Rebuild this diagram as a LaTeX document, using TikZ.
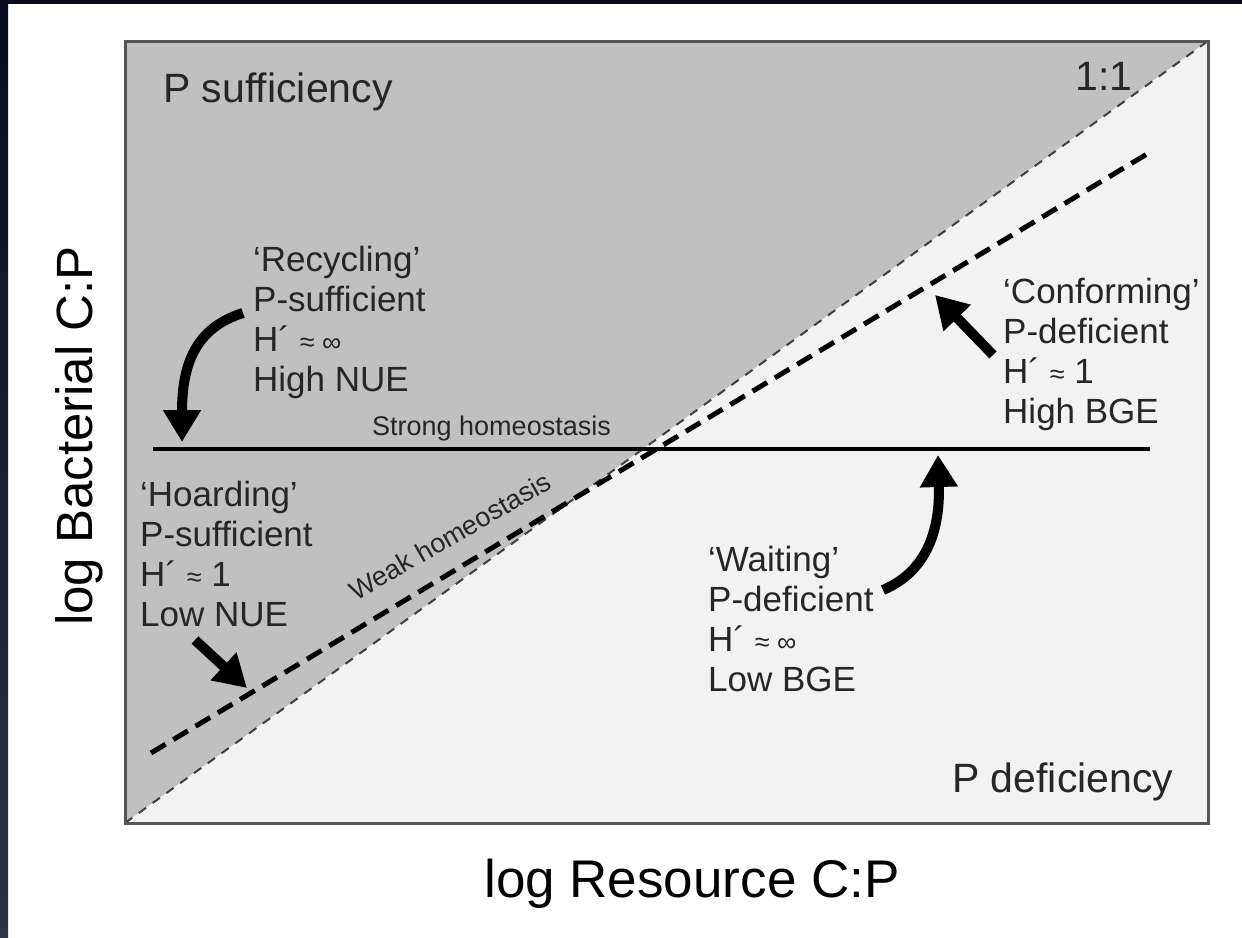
\documentclass[tikz,border=0pt]{standalone}
\usepackage{fontspec}
\setmainfont{Liberation Sans}
\usetikzlibrary{arrows.meta}
\definecolor{darkfill}{HTML}{C0C0C0}
\definecolor{lightfill}{HTML}{F2F2F2}
\definecolor{frameblue}{HTML}{0B0B1F}
\definecolor{frameblueb}{HTML}{30304A}
\definecolor{txt}{HTML}{262626}
\definecolor{framegray}{HTML}{555555}
\newcommand{\smallsym}[1]{{\fontsize{27}{27}\selectfont #1}}
\begin{document}
\begin{tikzpicture}[x=1pt,y=-1pt,
  lbl/.style={inner sep=0pt, text=txt, font=\fontsize{35}{40}\selectfont, align=left, anchor=north west},
  big/.style={inner sep=0pt, font=\fontsize{41}{46}\selectfont, text=txt, anchor=base west},
  axislbl/.style={inner sep=0pt, font=\fontsize{53}{60}\selectfont, text=black},
  thinlbl/.style={inner sep=0pt, font=\fontsize{27}{30}\selectfont, text=txt},
  bigarrow/.style={line width=10pt, -{Triangle[length=32pt,width=36pt]}},
  strongline/.style={line width=4.5pt},
  weakline/.style={line width=5pt, dash pattern=on 17pt off 9pt},
  oneline/.style={line width=2pt, draw=black!75, dash pattern=on 9pt off 8pt},
]
\useasboundingbox (0,0) rectangle (1242,937);
\fill[white] (0,0) rectangle (1242,937);
\shade[top color=frameblue, bottom color=frameblueb] (0,0) rectangle (8,937);
\fill[frameblue] (0,0) rectangle (1242,4);

% plot area
\coordinate (bl) at (125,823);
\coordinate (tr) at (1208,41);
\coordinate (tl) at (125,41);
\coordinate (br) at (1208,823);
\fill[darkfill] (bl) -- (tl) -- (tr) -- cycle;
\fill[lightfill] (bl) -- (br) -- (tr) -- cycle;
\draw[oneline] (bl) -- (tr);

% homeostasis lines
\coordinate (sl) at (153,449);
\coordinate (sr) at (1150,449);
\draw[strongline] (sl) -- (sr);
\coordinate (wl) at (151,753);
\coordinate (wr) at (1147,154);
\draw[weakline] (wl) -- (wr);

\draw[line width=3pt, draw=framegray] (tl) rectangle (br);

% labels
\node[big] (psuf) at (163,102) {P sufficiency};
\node[big] (one) at (1075,90) {1:1};
\node[big] (pdef) at (952,792) {P deficiency};
\node[axislbl, anchor=base] (xlab) at (692,897) {log Resource C:P};
\node[axislbl, rotate=90, anchor=base, font=\fontsize{51}{58}\selectfont] (ylab) at (92,436) {log Bacterial C:P};
\node[thinlbl, anchor=base west] (strong) at (372,435) {Strong homeostasis};
\node[thinlbl, rotate=30] (weak) at (450,536) {Weak homeostasis};

\node[lbl] (recy) at (253,246) {‘Recycling’\\P-sufficient\\H´ \smallsym{≈ ∞}\\High NUE};
\node[lbl] (hoard) at (140,481) {‘Hoarding’\\P-sufficient\\H´ \smallsym{≈} 1\\Low NUE};
\node[lbl] (conf) at (1003,278) {‘Conforming’\\P-deficient\\H´ \smallsym{≈} 1\\High BGE};
\node[lbl] (wait) at (708,546) {‘Waiting’\\P-deficient\\H´ \smallsym{≈ ∞}\\Low BGE};

% arrows
\coordinate (rs) at (243,313);
\coordinate (rt) at (182,442);
\draw[bigarrow] (rs) .. controls (195,328) and (182,365) .. (rt);
\coordinate (ws) at (883,590);
\coordinate (wt) at (938,455);
\draw[bigarrow] (ws) .. controls (930,570) and (940,525) .. (wt);
\coordinate (cs) at (993,355);
\coordinate (ct) at (935,295);
\draw[bigarrow] (cs) -- (ct);
\coordinate (hs) at (195,640);
\coordinate (ht) at (247,688);
\draw[bigarrow] (hs) -- (ht);
\end{tikzpicture}
\end{document}
